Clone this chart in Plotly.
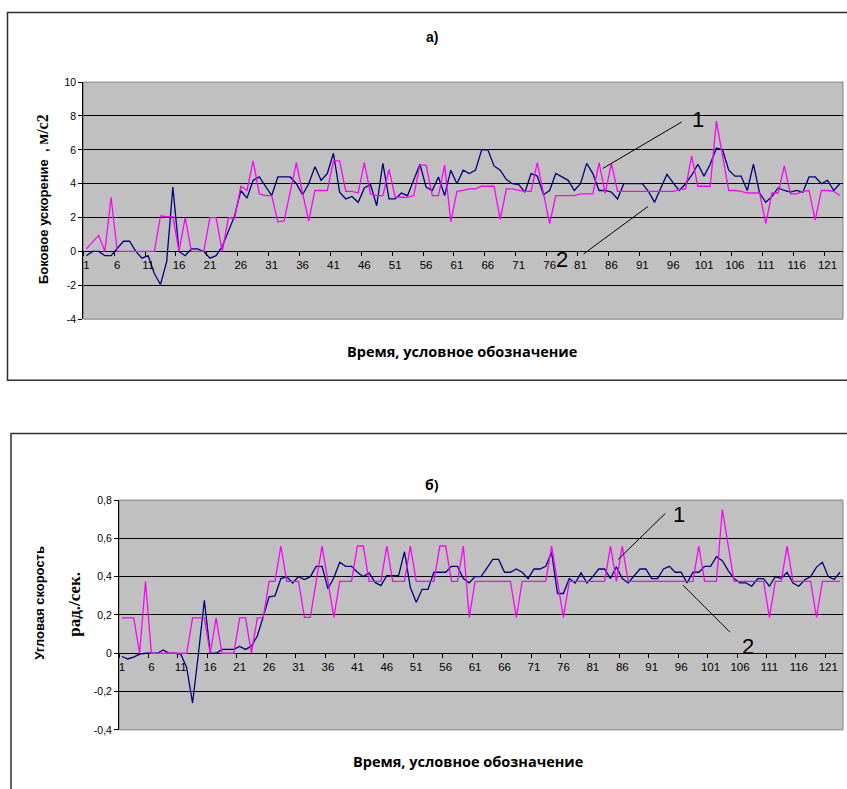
import plotly.graph_objects as go

# ---------------- data ----------------
categories = list(range(1, 124))
x_tick_vals = [1, 6, 11, 16, 21, 26, 31, 36, 41, 46, 51, 56, 61, 66, 71, 76, 81, 86, 91, 96, 101, 106, 111, 116, 121]
x_tick_text = ["1", "6", "11", "16", "21", "26", "31", "36", "41", "46", "51", "56", "61", "66", "71", "76",
               "81", "86", "91", "96", "101", "106", "111", "116", "121"]

top_y_vals = [-4, -2, 0, 2, 4, 6, 8, 10]
top_y_text = ["-4", "-2", "0", "2", "4", "6", "8", "10"]
bot_y_vals = [-0.4, -0.2, 0, 0.2, 0.4, 0.6, 0.8]
bot_y_text = ["-0,4", "-0,2", "0", "0,2", "0,4", "0,6", "0,8"]

# а) lateral acceleration, m/s2 : series 1 (navy) and series 2 (magenta)
accel_1 = [-0.25, 0.0, 0.0, -0.25, -0.25, 0.2, 0.6, 0.6, 0.0, -0.4,
           -0.25, -1.3, -1.95, -0.6, 3.8, 0.0, -0.25, 0.15, 0.15, 0.0,
           -0.4, -0.25, 0.3, 1.2, 2.1, 3.6, 3.15, 4.2, 4.4, 3.85,
           3.3, 4.4, 4.4, 4.4, 4.0, 3.35, 4.0, 5.0, 4.2, 4.6,
           5.8, 3.5, 3.1, 3.25, 2.9, 3.75, 3.95, 2.7, 5.2, 3.1,
           3.1, 3.45, 3.3, 4.2, 5.15, 3.8, 3.6, 4.4, 3.3, 4.8,
           4.0, 4.8, 4.6, 4.8, 6.0, 6.0, 5.05, 4.8, 4.25, 4.0,
           3.95, 3.5, 4.6, 4.45, 3.35, 3.6, 4.6, 4.4, 4.2, 3.6,
           4.0, 5.2, 4.6, 3.6, 3.6, 3.5, 3.1, 4.0, 4.0, 4.0,
           4.0, 3.55, 2.9, 3.75, 4.55, 4.05, 3.6, 4.0, 4.5, 5.15,
           4.45, 5.15, 6.1, 6.0, 4.8, 4.45, 4.45, 3.6, 5.15, 3.45,
           2.9, 3.25, 3.75, 3.6, 3.5, 3.6, 3.5, 4.4, 4.4, 4.0,
           4.2, 3.6, 4.0]
accel_2 = [0.15, 0.55, 0.95, 0.0, 3.2, 0.0, 0.0, 0.0, 0.0, 0.0,
           0.0, 0.0, 2.1, 2.05, 2.05, 0.0, 2.0, 0.0, 0.0, 0.0,
           2.0, 2.0, 0.0, 2.0, 1.95, 3.85, 3.6, 5.35, 3.4, 3.3,
           3.3, 1.75, 1.8, 3.5, 5.25, 3.45, 1.8, 3.6, 3.6, 3.6,
           5.35, 5.35, 3.55, 3.55, 3.45, 5.25, 3.4, 3.3, 3.3, 4.85,
           3.2, 3.2, 3.2, 3.3, 5.1, 5.1, 3.3, 3.3, 5.1, 1.75,
           3.55, 3.6, 3.7, 3.7, 3.85, 3.85, 3.85, 1.9, 3.7, 3.7,
           3.6, 3.55, 3.55, 5.25, 3.45, 1.65, 3.3, 3.3, 3.3, 3.3,
           3.4, 3.4, 3.4, 5.25, 3.45, 5.2, 3.55, 3.55, 3.55, 3.55,
           3.55, 3.55, 3.55, 3.55, 3.55, 3.55, 3.65, 3.7, 5.65, 3.85,
           3.85, 3.85, 7.7, 5.7, 3.6, 3.6, 3.55, 3.45, 3.45, 3.45,
           1.65, 3.45, 3.45, 5.05, 3.4, 3.4, 3.55, 3.6, 1.85, 3.6,
           3.6, 3.55, 3.3]

# б) angular rate, rad/s : series 1 (navy) and series 2 (magenta)
rate_1 = [-0.017, -0.03, -0.02, -0.005, 0.0, 0.0, 0.0, 0.017, 0.0, 0.0,
          -0.005, -0.075, -0.26, 0.0, 0.277, 0.0, 0.0, 0.02, 0.02, 0.02,
          0.035, 0.02, 0.037, 0.09, 0.19, 0.295, 0.3, 0.39, 0.4, 0.367,
          0.4, 0.385, 0.4, 0.454, 0.454, 0.337, 0.394, 0.475, 0.454, 0.454,
          0.423, 0.4, 0.42, 0.37, 0.353, 0.405, 0.405, 0.405, 0.53, 0.343,
          0.266, 0.334, 0.334, 0.423, 0.423, 0.423, 0.454, 0.454, 0.39, 0.368,
          0.4, 0.4, 0.444, 0.49, 0.49, 0.423, 0.423, 0.44, 0.423, 0.39,
          0.44, 0.44, 0.454, 0.526, 0.312, 0.312, 0.39, 0.367, 0.42, 0.367,
          0.4, 0.44, 0.44, 0.39, 0.452, 0.39, 0.367, 0.406, 0.44, 0.44,
          0.39, 0.39, 0.44, 0.454, 0.423, 0.423, 0.367, 0.423, 0.423, 0.454,
          0.454, 0.504, 0.483, 0.432, 0.39, 0.367, 0.367, 0.35, 0.39, 0.39,
          0.35, 0.4, 0.39, 0.423, 0.367, 0.35, 0.384, 0.4, 0.45, 0.475,
          0.4, 0.385, 0.423]
rate_2 = [0.185, 0.185, 0.185, 0.0, 0.375, 0.0, 0.0, 0.0, 0.0, 0.0,
          0.0, 0.0, 0.185, 0.185, 0.185, 0.0, 0.185, 0.0, 0.0, 0.0,
          0.185, 0.185, 0.0, 0.185, 0.185, 0.375, 0.375, 0.56, 0.375, 0.375,
          0.375, 0.187, 0.187, 0.375, 0.56, 0.375, 0.187, 0.375, 0.375, 0.375,
          0.56, 0.56, 0.375, 0.375, 0.375, 0.56, 0.375, 0.375, 0.375, 0.56,
          0.375, 0.375, 0.375, 0.375, 0.56, 0.56, 0.375, 0.375, 0.56, 0.187,
          0.375, 0.375, 0.375, 0.375, 0.375, 0.375, 0.375, 0.187, 0.375, 0.375,
          0.375, 0.375, 0.375, 0.56, 0.375, 0.187, 0.375, 0.375, 0.375, 0.375,
          0.375, 0.375, 0.375, 0.56, 0.375, 0.56, 0.375, 0.375, 0.375, 0.375,
          0.375, 0.375, 0.375, 0.375, 0.375, 0.375, 0.375, 0.375, 0.56, 0.375,
          0.375, 0.375, 0.75, 0.56, 0.375, 0.375, 0.375, 0.375, 0.375, 0.375,
          0.187, 0.375, 0.375, 0.56, 0.375, 0.375, 0.375, 0.375, 0.187, 0.375,
          0.375, 0.375, 0.375]

# ---------------- layout helpers ----------------
W, H = 847, 789
def px(x):
    return x / W
def py(y):
    return 1 - y / H

NAVY = "#000080"
MAGENTA = "#FF00FF"
ARIAL = "Arial, Liberation Sans, sans-serif"
SERIF = "Times New Roman, Liberation Serif, serif"
CAL = "Open Sans, Noto Sans, sans-serif"

top_xdom = [px(83.3), px(843)]
top_ydom = [py(318), py(77.3)]
bot_xdom = [px(119), px(843)]
bot_ydom = [py(735), py(501.7)]
top_yr = [-4, 10]
bot_yr = [-0.4, 0.8]

def zero_pos(dom, rng):
    return dom[0] + (0 - rng[0]) / (rng[1] - rng[0]) * (dom[1] - dom[0])

fig = go.Figure()
fig.add_trace(go.Scatter(x=categories, y=accel_1, mode="lines", line=dict(color=NAVY, width=1.3),
                         xaxis="x", yaxis="y"))
fig.add_trace(go.Scatter(x=categories, y=accel_2, mode="lines", line=dict(color=MAGENTA, width=1.3),
                         xaxis="x", yaxis="y"))
fig.add_trace(go.Scatter(x=categories, y=rate_1, mode="lines", line=dict(color=NAVY, width=1.3),
                         xaxis="x2", yaxis="y2"))
fig.add_trace(go.Scatter(x=categories, y=rate_2, mode="lines", line=dict(color=MAGENTA, width=1.3),
                         xaxis="x2", yaxis="y2"))

def xaxis_cfg(dom, ydom, yr):
    return dict(domain=dom, range=[0.5, 123.5], anchor="free", position=zero_pos(ydom, yr),
                tickmode="array", tickvals=x_tick_vals, ticktext=x_tick_text, ticks="",
                showgrid=False, zeroline=False, showline=False, fixedrange=True,
                tickfont=dict(family=ARIAL, size=11.5, color="black"), ticklabelstandoff=5,
                minor=dict(tickmode="linear", tick0=0.5, dtick=5, ticks="outside", ticklen=4,
                           tickcolor="black", tickwidth=1, showgrid=False))

def yaxis_cfg(dom, yr, vals, text, anchor):
    return dict(domain=dom, range=yr, anchor=anchor, tickmode="array", tickvals=vals, ticktext=text,
                ticks="outside", ticklen=4, tickcolor="black", showline=True, linecolor="black",
                linewidth=1, showgrid=True, gridcolor="black", gridwidth=1, zeroline=False,
                tickfont=dict(family=ARIAL, size=10.5, color="black"), fixedrange=True)

fig.update_layout(
    width=W, height=H, margin=dict(l=0, r=0, t=0, b=0), autosize=False,
    paper_bgcolor="white", plot_bgcolor="#C0C0C0", showlegend=False, hovermode=False,
    xaxis=xaxis_cfg(top_xdom, top_ydom, top_yr),
    yaxis=yaxis_cfg(top_ydom, top_yr, top_y_vals, top_y_text, "x"),
    xaxis2=xaxis_cfg(bot_xdom, bot_ydom, bot_yr),
    yaxis2=yaxis_cfg(bot_ydom, bot_yr, bot_y_vals, bot_y_text, "x2"),
)

shapes = [
    # outer chart frames
    dict(type="rect", xref="paper", yref="paper", x0=px(7.5), x1=1.02, y0=py(380), y1=py(6.5),
         line=dict(color="#303030", width=1.5), fillcolor="rgba(0,0,0,0)", layer="below"),
    dict(type="rect", xref="paper", yref="paper", x0=px(11), x1=1.02, y0=-0.02, y1=py(434),
         line=dict(color="#303030", width=1.5), fillcolor="rgba(0,0,0,0)", layer="below"),
    # plot-area borders
    dict(type="rect", xref="x domain", yref="y domain", x0=0, x1=1, y0=0, y1=1,
         line=dict(color="#808080", width=1), layer="below"),
    dict(type="rect", xref="x2 domain", yref="y2 domain", x0=0, x1=1, y0=0, y1=1,
         line=dict(color="#808080", width=1), layer="below"),
    # pointer lines for labels 1 and 2
    dict(type="line", xref="x", yref="y", x0=84.6, y0=4.9, x1=97.4, y1=7.65, line=dict(color="black", width=1)),
    dict(type="line", xref="x", yref="y", x0=81.5, y0=-0.15, x1=91.9, y1=2.65, line=dict(color="black", width=1)),
    dict(type="line", xref="x2", yref="y2", x0=85.3, y0=0.49, x1=93.3, y1=0.73, line=dict(color="black", width=1)),
    dict(type="line", xref="x2", yref="y2", x0=96.3, y0=0.356, x1=104.3, y1=0.11, line=dict(color="black", width=1)),
]
fig.update_layout(shapes=shapes)

def pann(text, x, y, font, angle=0):
    return dict(text=text, x=px(x), y=py(y), xref="paper", yref="paper", showarrow=False,
                xanchor="center", yanchor="middle", textangle=angle, font=font)

ann = [
    pann("<b>а)</b>", 432, 31, dict(family=ARIAL, size=14, color="black")),
    pann("<b>б)</b>", 432, 486, dict(family=CAL, size=14, color="black")),
    pann("<b>Время, условное обозначение</b>", 462, 351, dict(family=CAL, size=14.5, color="black")),
    pann("<b>Время, условное обозначение</b>", 468, 767, dict(family=CAL, size=14.5, color="black")),
    pann("<b>Боковое ускорение  , <span style=\"font-family:'Liberation Serif'; font-size:16px\">м/с2</span></b>",
         42, 196, dict(family=ARIAL, size=13, color="black"), -90),
    pann("<b>Угловая скорость</b>", 40, 606, dict(family=ARIAL, size=13, color="black"), -90),
    pann("<b>рад./сек.</b>", 75, 608, dict(family=SERIF, size=17, color="black"), -90),
    dict(text="1", x=100.1, y=7.8, xref="x", yref="y", showarrow=False, xanchor="center", yanchor="middle",
         font=dict(family=ARIAL, size=22, color="black")),
    dict(text="2", x=78.0, y=-0.45, xref="x", yref="y", showarrow=False, xanchor="center", yanchor="middle",
         font=dict(family=ARIAL, size=22, color="black")),
    dict(text="1", x=95.6, y=0.726, xref="x2", yref="y2", showarrow=False, xanchor="center", yanchor="middle",
         font=dict(family=ARIAL, size=22, color="black")),
    dict(text="2", x=107.4, y=0.037, xref="x2", yref="y2", showarrow=False, xanchor="center", yanchor="middle",
         font=dict(family=ARIAL, size=22, color="black")),
]
fig.update_layout(annotations=ann)

fig.write_html("out.html", config={"displayModeBar": False, "staticPlot": True},
               post_script="document.body.style.margin='0';document.body.style.overflow='hidden';")
